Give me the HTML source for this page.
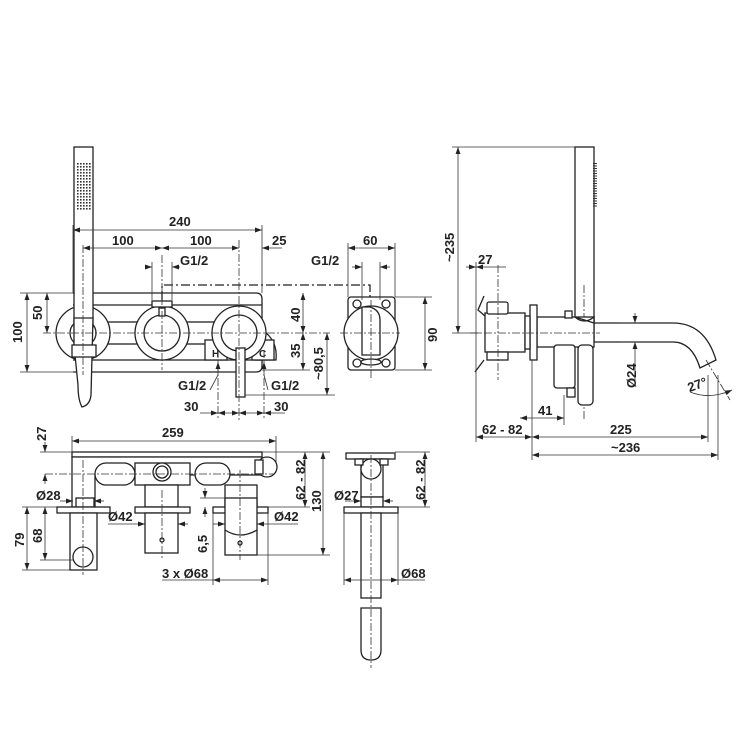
<!DOCTYPE html>
<html><head><meta charset="utf-8"><style>
html,body{margin:0;padding:0;background:#fff}
svg{display:block}
text{font-family:"Liberation Sans",Arial,sans-serif;font-weight:bold;font-size:13px;fill:#222}
.s{fill:none;stroke:#222;stroke-width:1.3}
.f{fill:#fff;stroke:#222;stroke-width:1.3}
.d{fill:none;stroke:#333;stroke-width:0.8}
.c{fill:none;stroke:#333;stroke-width:0.8;stroke-dasharray:8 2 2 2}
.dd{fill:none;stroke:#222;stroke-width:1.3;stroke-dasharray:9 3 2 3}
</style></head><body>
<svg width="750" height="750" viewBox="0 0 750 750" xmlns="http://www.w3.org/2000/svg">
<defs>
<marker id="a" viewBox="0 0 10 10" refX="10" refY="5" markerWidth="9" markerHeight="7" orient="auto-start-reverse" markerUnits="userSpaceOnUse"><path d="M0,1.5 L10,5 L0,8.5z" fill="#222"/></marker>
<pattern id="dots" x="77" y="163" width="3" height="3" patternUnits="userSpaceOnUse"><rect width="1.6" height="1.6" fill="#333"/></pattern>
</defs>

<!-- ===== TOP LEFT FRONT VIEW ===== -->
<path class="s" d="M73,293 H256 Q262,293 262,299 V366 Q262,372 256,372 H73"/>
<line class="s" x1="73" y1="305" x2="262" y2="305"/>
<line class="s" x1="73" y1="360" x2="262" y2="360"/>
<rect class="f" x="105" y="322" width="35" height="22"/>
<rect class="f" x="185" y="322" width="35" height="22"/>
<path class="f" d="M262,330 Q278,340 276,360 H255"/>
<rect class="f" x="205" y="340" width="22" height="20"/>
<rect class="f" x="252" y="340" width="22" height="20"/>
<text x="212" y="357" style="font-size:10px">H</text>
<text x="259" y="357" style="font-size:10px">C</text>
<circle class="f" cx="83" cy="333" r="27"/><circle class="s" cx="83" cy="333" r="13"/>
<circle class="f" cx="162" cy="333" r="27"/><circle class="s" cx="162" cy="333" r="18"/>
<rect class="f" x="152" y="301" width="20" height="6"/>
<rect class="f" x="159" y="308" width="6" height="8"/>
<circle class="f" cx="239" cy="333" r="27"/><circle class="s" cx="239" cy="333" r="18"/>
<rect class="f" x="236" y="348" width="9" height="49"/>
<rect class="f" x="74" y="147" width="19" height="180"/>
<path class="f" d="M74,318 H93 L91,395 Q90,405 82,407 Q78,400 78,385 L74,345 Z"/>
<rect class="f" x="72" y="345" width="24" height="12"/>
<rect x="77" y="163" width="14" height="47" fill="url(#dots)"/>
<line class="c" x1="43" y1="333" x2="330" y2="333"/>
<line class="c" x1="162" y1="255" x2="162" y2="370"/>
<line class="c" x1="239" y1="240" x2="239" y2="420"/>
<line class="c" x1="83" y1="245" x2="83" y2="375"/>
<line class="c" x1="218" y1="350" x2="218" y2="420"/>
<line class="c" x1="264" y1="350" x2="264" y2="420"/>
<path class="dd" d="M162,300 V285 H370 V300"/>
<line class="d" x1="73" y1="230" x2="262" y2="230" marker-start="url(#a)" marker-end="url(#a)"/>
<line class="d" x1="73" y1="225" x2="73" y2="293"/><line class="d" x1="262" y1="225" x2="262" y2="293"/>
<text x="169" y="226">240</text>
<line class="d" x1="83" y1="248" x2="162" y2="248" marker-start="url(#a)" marker-end="url(#a)"/>
<line class="d" x1="162" y1="248" x2="239" y2="248" marker-start="url(#a)" marker-end="url(#a)"/>
<line class="d" x1="262" y1="248" x2="282" y2="248" marker-start="url(#a)"/>
<text x="112" y="245">100</text><text x="190" y="245">100</text><text x="272" y="245">25</text>
<line class="d" x1="145" y1="267" x2="152" y2="267" marker-end="url(#a)"/>
<line class="d" x1="172" y1="267" x2="180" y2="267" marker-start="url(#a)"/>
<line class="d" x1="152" y1="262" x2="152" y2="300"/><line class="d" x1="172" y1="262" x2="172" y2="300"/>
<text x="180" y="265">G1/2</text>
<line class="d" x1="20" y1="293" x2="75" y2="293"/><line class="d" x1="20" y1="372" x2="75" y2="372"/>
<line class="d" x1="27" y1="293" x2="27" y2="372" marker-start="url(#a)" marker-end="url(#a)"/>
<line class="d" x1="47" y1="293" x2="47" y2="333" marker-start="url(#a)" marker-end="url(#a)"/>
<text transform="translate(22,343) rotate(-90)">100</text>
<text transform="translate(42,320) rotate(-90)">50</text>
<line class="d" x1="262" y1="370" x2="310" y2="370"/>
<line class="d" x1="245" y1="395" x2="335" y2="395"/>
<line class="d" x1="303" y1="293" x2="303" y2="333" marker-start="url(#a)" marker-end="url(#a)"/>
<line class="d" x1="303" y1="333" x2="303" y2="370" marker-start="url(#a)" marker-end="url(#a)"/>
<line class="d" x1="327" y1="333" x2="327" y2="395" marker-start="url(#a)" marker-end="url(#a)"/>
<text transform="translate(300,322) rotate(-90)">40</text>
<text transform="translate(300,358) rotate(-90)">35</text>
<text transform="translate(323,380) rotate(-90)">~80,5</text>
<line class="d" x1="218" y1="362" x2="218" y2="375" marker-start="url(#a)"/>
<line class="d" x1="264" y1="362" x2="264" y2="375" marker-start="url(#a)"/>
<line class="d" x1="218" y1="375" x2="210" y2="390"/><line class="d" x1="264" y1="375" x2="268" y2="390"/>
<text x="178" y="390">G1/2</text><text x="271" y="390">G1/2</text>
<line class="d" x1="200" y1="413" x2="218" y2="413" marker-end="url(#a)"/>
<line class="d" x1="218" y1="413" x2="239" y2="413" marker-start="url(#a)" marker-end="url(#a)"/>
<line class="d" x1="239" y1="413" x2="264" y2="413" marker-start="url(#a)" marker-end="url(#a)"/>
<line class="d" x1="264" y1="413" x2="285" y2="413" marker-start="url(#a)"/>
<text x="184" y="411">30</text><text x="274" y="411">30</text>

<!-- ===== TOP SMALL SIDE VIEW ===== -->
<rect class="f" x="348" y="297" width="47" height="73" rx="3"/>
<circle class="s" cx="357" cy="304" r="4"/><circle class="s" cx="386" cy="304" r="4"/>
<circle class="s" cx="357" cy="363" r="4"/><circle class="s" cx="386" cy="363" r="4"/>
<circle class="f" cx="371" cy="333" r="27"/>
<path class="f" d="M362,307 V355 H380 V320 Q380,310 370,307 Z"/>
<ellipse class="f" cx="371" cy="362" rx="10" ry="3"/>
<line class="c" x1="371" y1="300" x2="371" y2="378"/>
<line class="c" x1="340" y1="333" x2="400" y2="333"/>
<line class="d" x1="348" y1="243" x2="348" y2="297"/><line class="d" x1="395" y1="243" x2="395" y2="297"/>
<line class="d" x1="348" y1="248" x2="395" y2="248" marker-start="url(#a)" marker-end="url(#a)"/>
<text x="363" y="245">60</text>
<line class="d" x1="352" y1="267" x2="362" y2="267" marker-end="url(#a)"/>
<line class="d" x1="380" y1="267" x2="390" y2="267" marker-start="url(#a)"/>
<line class="d" x1="362" y1="262" x2="362" y2="300"/><line class="d" x1="380" y1="262" x2="380" y2="300"/>
<text x="311" y="265">G1/2</text>
<line class="d" x1="395" y1="297" x2="432" y2="297"/><line class="d" x1="395" y1="370" x2="432" y2="370"/>
<line class="d" x1="425" y1="297" x2="425" y2="370" marker-start="url(#a)" marker-end="url(#a)"/>
<text transform="translate(437,342) rotate(-90)">90</text>

<!-- ===== TOP RIGHT SIDE VIEW ===== -->
<rect class="f" x="575" y="147" width="19" height="175"/>
<line x1="595" y1="163" x2="595" y2="208" stroke="#333" stroke-width="4" stroke-dasharray="1 1.5"/>
<line class="c" x1="584" y1="285" x2="584" y2="420"/>
<path class="f" d="M594,323 H673 Q705,323 716,360 L700,368 Q692,342 673,342 H594 Z"/>
<rect class="f" x="537" y="317" width="57" height="30"/>
<rect class="f" x="530" y="305" width="7" height="55"/>
<rect class="f" x="565" y="311" width="7" height="7"/>
<rect class="f" x="485" y="313" width="40" height="39"/>
<rect class="f" x="487" y="302" width="21" height="12" rx="2"/>
<rect class="f" x="487" y="352" width="21" height="8"/>
<rect class="f" x="525" y="316" width="5" height="33"/>
<path class="s" d="M484,296 L478,310 L485,316 M484,360 L478,368 L475,372"/>
<rect class="f" x="554" y="345" width="21" height="43" rx="3"/>
<rect class="f" x="567" y="388" width="8" height="9"/>
<rect class="f" x="578" y="345" width="15" height="60" rx="4"/>
<path class="f" d="M575,317 Q584,325 594,317 V323 Z"/>
<line class="c" x1="470" y1="333" x2="600" y2="333"/>
<line class="c" x1="498" y1="265" x2="498" y2="380"/>
<line class="d" x1="452" y1="147" x2="575" y2="147"/>
<line class="d" x1="452" y1="333" x2="480" y2="333"/>
<line class="d" x1="458" y1="147" x2="458" y2="333" marker-start="url(#a)" marker-end="url(#a)"/>
<text transform="translate(454,262) rotate(-90)">~235</text>
<line class="d" x1="466" y1="267" x2="476" y2="267" marker-end="url(#a)"/>
<line class="d" x1="476" y1="267" x2="498" y2="267" marker-start="url(#a)"/>
<line class="d" x1="498" y1="267" x2="506" y2="267"/>
<text x="478" y="264">27</text>
<line class="d" x1="476" y1="262" x2="476" y2="442"/>
<line class="d" x1="532" y1="360" x2="532" y2="460"/>
<line class="d" x1="564" y1="395" x2="564" y2="425"/>
<line class="d" x1="708" y1="375" x2="708" y2="442"/>
<line class="d" x1="718" y1="375" x2="718" y2="460"/>
<line class="d" x1="520" y1="418" x2="564" y2="418" marker-start="url(#a)" marker-end="url(#a)"/>
<text x="538" y="415">41</text>
<line class="d" x1="476" y1="437" x2="532" y2="437" marker-start="url(#a)" marker-end="url(#a)"/>
<line class="d" x1="532" y1="437" x2="708" y2="437" marker-start="url(#a)" marker-end="url(#a)"/>
<line class="d" x1="532" y1="455" x2="718" y2="455" marker-start="url(#a)" marker-end="url(#a)"/>
<text x="482" y="434">62 - 82</text><text x="610" y="434">225</text><text x="611" y="452">~236</text>
<line class="d" x1="620" y1="323" x2="640" y2="323"/><line class="d" x1="620" y1="342" x2="640" y2="342"/>
<line class="d" x1="635" y1="313" x2="635" y2="323" marker-end="url(#a)"/>
<line class="d" x1="635" y1="342" x2="635" y2="385" marker-start="url(#a)"/>
<text transform="translate(636,388) rotate(-90)">Ø24</text>
<line class="c" x1="706" y1="360" x2="730" y2="400"/>
<path class="d" d="M690,392 Q710,400 732,390" marker-end="url(#a)"/>
<text x="687" y="388" transform="rotate(-20,700,383)">27°</text>

<!-- ===== BOTTOM LEFT TOP VIEW ===== -->
<line class="d" x1="72" y1="436" x2="72" y2="452"/><line class="d" x1="276" y1="436" x2="276" y2="465"/>
<line class="d" x1="72" y1="441" x2="276" y2="441" marker-start="url(#a)" marker-end="url(#a)"/>
<text x="162" y="437">259</text>
<rect class="f" x="72" y="452" width="190" height="5"/>
<path class="f" d="M72,457 H262 V475 H95 V507 H72 Z"/>
<rect class="f" x="95" y="463" width="40" height="22" rx="11"/>
<rect class="f" x="135" y="463" width="55" height="22"/>
<rect class="f" x="195" y="463" width="35" height="22" rx="11"/>
<circle class="f" cx="267" cy="467" r="10"/>
<rect class="f" x="255" y="460" width="8" height="14"/>
<circle class="f" cx="162" cy="472" r="9"/><circle class="s" cx="162" cy="472" r="6"/>
<rect class="f" x="145" y="485" width="33" height="22"/>
<rect class="f" x="225" y="485" width="32" height="22"/>
<rect class="f" x="76" y="498" width="18" height="9"/>
<rect class="f" x="57" y="507" width="53" height="6"/>
<rect class="f" x="135" y="507" width="55" height="6"/>
<rect class="f" x="213" y="507" width="55" height="6"/>
<rect class="f" x="70" y="513" width="27" height="57"/>
<circle class="f" cx="83" cy="557" r="10"/>
<rect class="f" x="145" y="513" width="33" height="40"/>
<rect class="f" x="225" y="498" width="32" height="57"/>
<path class="s" d="M225,530 Q240,540 257,530"/>
<circle class="s" cx="162" cy="540" r="2"/><circle class="s" cx="240" cy="543" r="2"/>
<line class="c" x1="45" y1="474" x2="275" y2="474"/>
<line class="c" x1="83" y1="460" x2="83" y2="575"/>
<line class="c" x1="162" y1="490" x2="162" y2="560"/>
<line class="c" x1="240" y1="470" x2="240" y2="560"/>
<line class="d" x1="40" y1="452" x2="72" y2="452"/>
<line class="d" x1="45" y1="442" x2="45" y2="452" marker-end="url(#a)"/>
<line class="d" x1="45" y1="474" x2="45" y2="484" marker-start="url(#a)"/>
<text transform="translate(46,441) rotate(-90)">27</text>
<text x="36" y="500">Ø28</text>
<line class="d" x1="60" y1="501" x2="73" y2="501" marker-end="url(#a)"/>
<line class="d" x1="94" y1="501" x2="104" y2="501" marker-start="url(#a)"/>
<line class="d" x1="22" y1="507" x2="57" y2="507"/><line class="d" x1="40" y1="560" x2="73" y2="560"/><line class="d" x1="22" y1="570" x2="70" y2="570"/>
<line class="d" x1="27" y1="507" x2="27" y2="570" marker-start="url(#a)" marker-end="url(#a)"/>
<line class="d" x1="45" y1="507" x2="45" y2="560" marker-start="url(#a)" marker-end="url(#a)"/>
<text transform="translate(24,547) rotate(-90)">79</text>
<text transform="translate(42,543) rotate(-90)">68</text>
<text x="108" y="521">Ø42</text>
<line class="d" x1="108" y1="524" x2="145" y2="524" marker-end="url(#a)"/>
<line class="d" x1="178" y1="524" x2="188" y2="524" marker-start="url(#a)"/>
<line class="d" x1="213" y1="524" x2="225" y2="524" marker-end="url(#a)"/>
<line class="d" x1="257" y1="524" x2="298" y2="524" marker-start="url(#a)"/>
<text x="274" y="521">Ø42</text>
<line class="d" x1="205" y1="488" x2="205" y2="498" marker-end="url(#a)"/>
<line class="d" x1="205" y1="507" x2="205" y2="517" marker-start="url(#a)"/>
<line class="d" x1="200" y1="498" x2="225" y2="498"/>
<text transform="translate(207,553) rotate(-90)">6,5</text>
<line class="d" x1="213" y1="513" x2="213" y2="585"/><line class="d" x1="268" y1="513" x2="268" y2="585"/>
<line class="d" x1="213" y1="580" x2="268" y2="580" marker-start="url(#a)" marker-end="url(#a)"/>
<line class="d" x1="162" y1="580" x2="213" y2="580"/>
<text x="162" y="578">3 x Ø68</text>
<line class="d" x1="262" y1="452" x2="330" y2="452"/><line class="d" x1="268" y1="507" x2="310" y2="507"/><line class="d" x1="257" y1="555" x2="330" y2="555"/>
<line class="d" x1="305" y1="452" x2="305" y2="507" marker-start="url(#a)" marker-end="url(#a)"/>
<line class="d" x1="323" y1="452" x2="323" y2="555" marker-start="url(#a)" marker-end="url(#a)"/>
<text transform="translate(305,500) rotate(-90)">62 - 82</text>
<text transform="translate(321,512) rotate(-90)">130</text>

<!-- ===== BOTTOM RIGHT SIDE ===== -->
<rect class="f" x="346" y="453" width="49" height="6"/>
<rect class="f" x="361" y="459" width="22" height="38"/>
<circle class="f" cx="371" cy="469" r="10"/>
<rect class="f" x="355" y="459" width="8" height="6"/><rect class="f" x="380" y="459" width="8" height="6"/>
<rect class="f" x="361" y="497" width="22" height="10"/>
<rect class="f" x="344" y="507" width="54" height="6"/>
<rect class="f" x="361" y="513" width="20" height="85"/>
<path class="f" d="M361,608 H381 V650 Q381,660 371,660 Q361,660 361,650 Z"/>
<line class="c" x1="371" y1="455" x2="371" y2="668"/>
<text x="334" y="500">Ø27</text>
<line class="d" x1="345" y1="501" x2="361" y2="501" marker-end="url(#a)"/>
<line class="d" x1="383" y1="501" x2="393" y2="501" marker-start="url(#a)"/>
<line class="d" x1="344" y1="513" x2="344" y2="585"/><line class="d" x1="398" y1="513" x2="398" y2="585"/>
<line class="d" x1="344" y1="580" x2="398" y2="580" marker-start="url(#a)" marker-end="url(#a)"/>
<line class="d" x1="398" y1="580" x2="425" y2="580"/>
<text x="401" y="578">Ø68</text>
<line class="d" x1="395" y1="452" x2="430" y2="452"/><line class="d" x1="398" y1="507" x2="430" y2="507"/>
<line class="d" x1="425" y1="452" x2="425" y2="507" marker-start="url(#a)" marker-end="url(#a)"/>
<text transform="translate(425,500) rotate(-90)">62 - 82</text>
</svg>
</body></html>
